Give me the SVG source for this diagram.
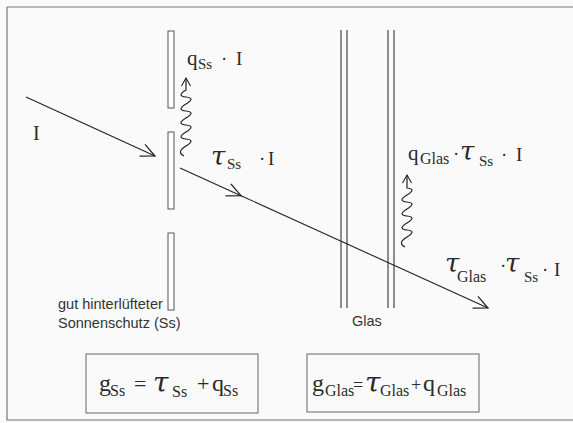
<svg xmlns="http://www.w3.org/2000/svg" width="573" height="423" viewBox="0 0 573 423">
<style>
.m{font-family:"Liberation Serif","Times New Roman",serif;fill:#2a2a2a}
.t{font-family:"DejaVu Serif",serif;font-style:italic;fill:#2a2a2a}
.s{font-family:"Liberation Sans",Arial,sans-serif;fill:#333;font-size:14.5px}
.ln{stroke:#222;stroke-width:1.1;fill:none}
.slat{fill:#fff;stroke:#555;stroke-width:1}
.gl{stroke:#333;stroke-width:1.1}
.box{fill:none;stroke:#666;stroke-width:1}
.wv{stroke:#222;stroke-width:1.2;fill:none}
</style>
<defs>
<marker id="ah" markerWidth="20" markerHeight="20" refX="15" refY="10" orient="auto" markerUnits="userSpaceOnUse">
<path d="M1,3.5 L15,10 L1,16.5" fill="none" stroke="#222" stroke-width="1.2"/>
</marker>
<marker id="ahs" markerWidth="14" markerHeight="14" refX="9" refY="7" orient="auto" markerUnits="userSpaceOnUse">
<path d="M1,2.5 L9,7 L1,11.5" fill="none" stroke="#222" stroke-width="1.1"/>
</marker>
</defs>
<rect width="573" height="423" fill="#fafafa"/>
<g id="frame" stroke="#777" stroke-width="1.2" fill="none">
<path d="M7,7 H573 M7,7 V420 H573"/>
</g>
<g id="sunscreen">
<rect class="slat" x="168" y="31" width="6" height="77"/>
<rect class="slat" x="168" y="132" width="6" height="77"/>
<rect class="slat" x="168" y="233" width="6" height="77"/>
<text class="s" x="58" y="309">gut hinterlüfteter</text>
<text class="s" x="58" y="328">Sonnenschutz (Ss)</text>
</g>
<g id="glass">
<line class="gl" x1="341" y1="30" x2="341" y2="308"/>
<line class="gl" x1="347" y1="30" x2="347" y2="308"/>
<line class="gl" x1="388" y1="30" x2="388" y2="308"/>
<line class="gl" x1="394" y1="30" x2="394" y2="308"/>
<text class="s" x="352" y="326">Glas</text>
</g>
<g id="connectors">
<line class="ln" x1="26" y1="97" x2="155" y2="156" marker-end="url(#ah)"/>
<polyline class="ln" points="180,168 241,195.7 488,308" marker-mid="url(#ah)" marker-end="url(#ah)"/>
<path class="wv" d="M184,156 Q176,152 186,146 T186,139 T186,132 T186,125 T186,118 T186,111 T186,104 T186,97 T186,90 L186,78" marker-end="url(#ahs)"/>
<path class="wv" d="M405,247 Q397,243 407,237 T407,230 T407,223 T407,216 T407,209 T407,202 T407,195 T407,188 L407,175" marker-end="url(#ahs)"/>
</g>
<g id="labels">
<g class="m">
<text x="33" y="140" font-size="20">I</text>
<text x="187" y="65" font-size="21">q</text>
<text x="198" y="69" font-size="15">Ss</text>
<text x="221" y="65" font-size="19">·</text>
<text x="236" y="65" font-size="19">I</text>
<text x="227" y="169" font-size="15">Ss</text>
<text x="259" y="165" font-size="19">·</text>
<text x="268" y="165" font-size="19">I</text>
<text x="408" y="160" font-size="21">q</text>
<text x="420" y="164" font-size="16">Glas</text>
<text x="453" y="160" font-size="19">·</text>
<text x="479" y="166" font-size="15">Ss</text>
<text x="501" y="161" font-size="19">·</text>
<text x="516" y="161" font-size="19">I</text>
<text x="457" y="282" font-size="16">Glas</text>
<text x="500" y="272" font-size="19">·</text>
<text x="524" y="282" font-size="15">Ss</text>
<text x="542" y="276" font-size="19">·</text>
<text x="554" y="276" font-size="19">I</text>
</g>
<g class="t" font-size="26">
<text x="211" y="165">τ</text>
<text x="460" y="160">τ</text>
<text x="445" y="272">τ</text>
<text x="505" y="272">τ</text>
</g>
</g>
<g id="formula-ss">
<rect class="box" x="86" y="354" width="172" height="59"/>
<g class="m">
<text x="99" y="391" font-size="24">g</text>
<text x="110" y="396" font-size="16">Ss</text>
<text x="134" y="391" font-size="22">=</text>
<text x="172" y="397" font-size="16">Ss</text>
<text x="197" y="391" font-size="22">+</text>
<text x="212" y="391" font-size="24">q</text>
<text x="223" y="396" font-size="16">Ss</text>
</g>
<text class="t" x="153" y="392" font-size="28">τ</text>
</g>
<g id="formula-glas">
<rect class="box" x="307" y="354" width="172" height="58"/>
<g class="m">
<text x="312" y="391" font-size="24">g</text>
<text x="325" y="396" font-size="16">Glas</text>
<text x="353" y="391" font-size="18">=</text>
<text x="380" y="396" font-size="16">Glas</text>
<text x="411" y="391" font-size="18">+</text>
<text x="423" y="391" font-size="24">q</text>
<text x="437" y="396" font-size="16">Glas</text>
</g>
<text class="t" x="365" y="392" font-size="28">τ</text>
</g>
</svg>
